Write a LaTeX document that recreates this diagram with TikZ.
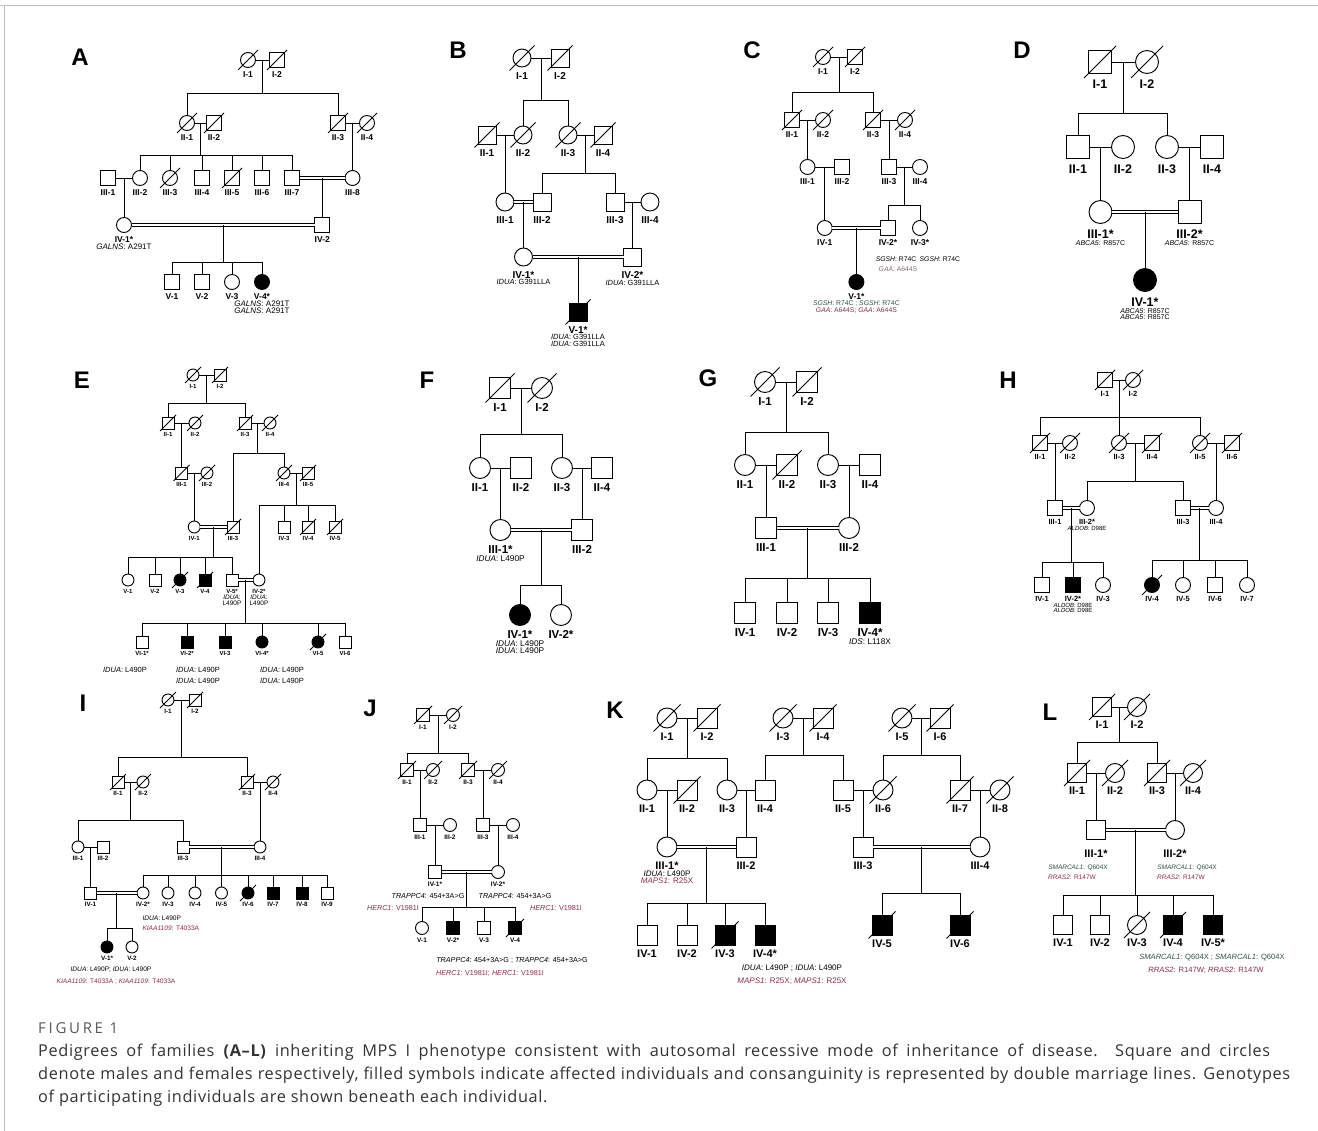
\documentclass[tikz,border=0pt]{standalone}
\usepackage{fontspec}
\setmainfont{Liberation Sans}
\newfontfamily\capfont{Open Sans}
\usetikzlibrary{calc,positioning}
\definecolor{maroon}{HTML}{8E2A4F}
\definecolor{dgreen}{HTML}{2F5245}
\definecolor{gtgray}{HTML}{7D6E76}
\definecolor{capgray}{HTML}{333333}
\newcommand\fs[1]{\fontsize{#1}{#1}\selectfont}
\newcommand\symsz{15}
\newcommand\dlen{10}
\newcommand\lgap{3pt}
\newcommand\labfont{\fs{9}\bfseries}
\newcommand\gtfont{\fs{6.5}}
\newcommand\gn[1]{\textit{#1}}
\newcommand\Ma[5][]{\node[msym,#1] (#2) at (#3,#4) {}; \node[lab,below=\lgap of #2] (#2-t) {#5};}
\newcommand\Fe[5][]{\node[fsym,#1] (#2) at (#3,#4) {}; \node[lab,below=\lgap of #2] (#2-t) {#5};}
\newcommand\dcs[1]{\draw[rel] ($(#1)+(-\dlen,\dlen)$) -- ($(#1)+(\dlen,-\dlen)$);}
\newcommand\mar[3]{\draw[rel] (#1) -- (#2); \coordinate (#3) at ($(#1)!.5!(#2)$);}
\newcommand\cmar[3]{\draw[cons] (#1) -- (#2); \coordinate (#3) at ($(#1)!.5!(#2)$);}
\newcommand\down[2]{\draw[rel] (#1) -- (#1 |- #2.north);}
\newcommand\sib[3]{\coordinate (#1s) at (#1 |- 0,#2); \draw[rel] (#1) -- (#1s); \foreach \ch in {#3}{\draw[rel] (#1s) -- (#1s -| \ch) -- (\ch);}}
\newcommand\gb[3][]{\node[gtn,below=0.4pt of #2,#1] (#2g) {#3};}
\begin{document}
\begin{tikzpicture}[x=1pt,y=-1pt,
 symb/.style={draw,line width=0.95pt,fill=white,inner sep=0pt,outer sep=0pt,minimum size=\symsz pt},
 msym/.style={symb,rectangle},
 fsym/.style={symb,circle},
 aff/.style={fill=black},
 rel/.style={line width=0.95pt},
 cons/.style={line width=0.75pt,double,double distance=2.3pt},
 lab/.style={inner sep=0.5pt,font=\labfont},
 gtn/.style={inner sep=0.3pt,font=\gtfont},
 panel/.style={inner sep=0pt,font=\fs{24}\bfseries},
 capline/.style={anchor=base west,inner sep=0pt,font=\capfont\fs{16.3}\addfontfeatures{LetterSpace=4},text=capgray}]
\useasboundingbox (0,0) rectangle (1318,1131);
\fill[white] (0,0) rectangle (1318,1131);
\draw[black!25,line width=0.6pt] (0,5) -- (1318,5);
\draw[black!25,line width=0.6pt] (4,5) -- (4,1131);
% ---------------- A
\begin{scope}
\renewcommand\symsz{15}\renewcommand\dlen{10}\renewcommand\labfont{\fs{8.5}\bfseries}\renewcommand\gtfont{\fs{8}}\renewcommand\lgap{3pt}
\node[panel] (A) at (80,57) {A};
\Fe{A-I-1}{248}{60}{I-1} \Ma{A-I-2}{277}{60}{I-2}
\mar{A-I-1}{A-I-2}{A-m1}
\Fe{A-II-1}{187}{123}{II-1} \Ma{A-II-2}{214}{123}{II-2}
\Ma{A-II-3}{338}{123}{II-3} \Fe{A-II-4}{367}{123}{II-4}
\sib{A-m1}{93}{A-II-1,A-II-3}
\mar{A-II-1}{A-II-2}{A-m2} \mar{A-II-3}{A-II-4}{A-m3}
\Ma{A-III-1}{108}{178}{III-1} \Fe{A-III-2}{140}{178}{III-2} \Fe{A-III-3}{170}{178}{III-3} \Ma{A-III-4}{202}{178}{III-4}
\Ma{A-III-5}{232}{178}{III-5} \Ma{A-III-6}{262}{178}{III-6} \Ma{A-III-7}{292}{178}{III-7} \Fe{A-III-8}{352.5}{178}{III-8}
\sib{A-m2}{155}{A-III-2,A-III-3,A-III-4,A-III-5,A-III-6,A-III-7}
\down{A-m3}{A-III-8}
\mar{A-III-1}{A-III-2}{A-m4} \cmar{A-III-7}{A-III-8}{A-m5}
\Fe{A-IV-1}{124}{225}{IV-1*} \Ma{A-IV-2}{322.25}{225}{IV-2}
\down{A-m4}{A-IV-1} \down{A-m5}{A-IV-2}
\gb{A-IV-1-t}{\gn{GALNS}: A291T}
\cmar{A-IV-1}{A-IV-2}{A-m6}
\Ma{A-V-1}{172}{282}{V-1} \Ma{A-V-2}{202}{282}{V-2} \Fe{A-V-3}{232}{282}{V-3} \Fe[aff]{A-V-4}{262}{282}{V-4*}
\sib{A-m6}{262}{A-V-1,A-V-2,A-V-3,A-V-4}
\gb{A-V-4-t}{\gn{GALNS}: A291T} \gb{A-V-4-tg}{\gn{GALNS}: A291T}
\dcs{A-I-1}\dcs{A-I-2}\dcs{A-II-1}\dcs{A-II-2}\dcs{A-II-3}\dcs{A-II-4}\dcs{A-III-3}\dcs{A-III-5}
\end{scope}
% ---------------- B
\begin{scope}
\renewcommand\symsz{18}\renewcommand\dlen{12.5}\renewcommand\labfont{\fs{10}\bfseries}\renewcommand\gtfont{\fs{7.5}}\renewcommand\lgap{4.5pt}
\node[panel] (B) at (458,50) {B};
\Fe{B-I-1}{522}{58}{I-1} \Ma{B-I-2}{560}{58}{I-2} \mar{B-I-1}{B-I-2}{B-m1}
\Ma{B-II-1}{487}{135}{II-1} \Fe{B-II-2}{523}{135}{II-2} \Fe{B-II-3}{568}{135}{II-3} \Ma{B-II-4}{603}{135}{II-4}
\sib{B-m1}{100}{B-II-2,B-II-3}
\mar{B-II-1}{B-II-2}{B-m2} \mar{B-II-3}{B-II-4}{B-m3}
\Fe{B-III-1}{505}{202}{III-1} \Ma{B-III-2}{542}{202}{III-2} \Ma{B-III-3}{615}{202}{III-3} \Fe{B-III-4}{650}{202}{III-4}
\down{B-m2}{B-III-1} \sib{B-m3}{173}{B-III-2,B-III-3}
\cmar{B-III-1}{B-III-2}{B-m4} \mar{B-III-3}{B-III-4}{B-m5}
\Fe{B-IV-1}{523.5}{257}{IV-1*} \Ma{B-IV-2}{632.5}{257}{IV-2*}
\down{B-m4}{B-IV-1} \down{B-m5}{B-IV-2}
\gb{B-IV-1-t}{\gn{IDUA}: G391LLA} \gb{B-IV-2-t}{\gn{IDUA}: G391LLA}
\cmar{B-IV-1}{B-IV-2}{B-m6}
\Ma[aff]{B-V-1}{578}{312}{V-1*} \down{B-m6}{B-V-1}
\gb{B-V-1-t}{\gn{IDUA}: G391LLA} \gb{B-V-1-tg}{\gn{IDUA}: G391LLA}
\dcs{B-I-1}\dcs{B-I-2}\dcs{B-II-1}\dcs{B-II-2}\dcs{B-II-3}\dcs{B-II-4}\dcs{B-V-1}
\end{scope}
% ---------------- C
\begin{scope}
\renewcommand\symsz{15}\renewcommand\dlen{10}\renewcommand\labfont{\fs{8.5}\bfseries}\renewcommand\gtfont{\fs{6.8}}\renewcommand\lgap{3pt}
\node[panel] (C) at (752,50) {C};
\Fe{C-I-1}{823}{57}{I-1} \Ma{C-I-2}{855}{57}{I-2} \mar{C-I-1}{C-I-2}{C-m1}
\Ma{C-II-1}{792}{120}{II-1} \Fe{C-II-2}{823}{120}{II-2} \Ma{C-II-3}{873}{120}{II-3} \Fe{C-II-4}{905}{120}{II-4}
\sib{C-m1}{92}{C-II-1,C-II-3}
\mar{C-II-1}{C-II-2}{C-m2} \mar{C-II-3}{C-II-4}{C-m3}
\Fe{C-III-1}{807.5}{167}{III-1} \Ma{C-III-2}{842}{167}{III-2} \Ma{C-III-3}{889}{167}{III-3} \Fe{C-III-4}{920}{167}{III-4}
\down{C-m2}{C-III-1} \down{C-m3}{C-III-3}
\mar{C-III-1}{C-III-2}{C-m4} \mar{C-III-3}{C-III-4}{C-m5}
\Fe{C-IV-1}{824.75}{228}{IV-1} \Ma{C-IV-2}{888}{228}{IV-2*} \Fe{C-IV-3}{920}{228}{IV-3*}
\down{C-m4}{C-IV-1} \sib{C-m5}{205}{C-IV-2,C-IV-3}
\node[gtn] (C-g1) at (918,259) {\gn{SGSH}: R74C\enspace\gn{SGSH}: R74C};
\node[gtn,text=gtgray] (C-g2) at (898,269.5) {\gn{GAA}: A644S};
\cmar{C-IV-1}{C-IV-2}{C-m6}
\Fe[aff]{C-V-1}{856.4}{282}{V-1*} \down{C-m6}{C-V-1}
\gb[text=dgreen]{C-V-1-t}{\gn{SGSH}: R74C ; \gn{SGSH}: R74C} \gb[text=maroon]{C-V-1-tg}{\gn{GAA}: A644S; \gn{GAA}: A644S}
\dcs{C-I-1}\dcs{C-I-2}\dcs{C-II-1}\dcs{C-II-2}\dcs{C-II-3}\dcs{C-II-4}
\end{scope}
% ---------------- D
\begin{scope}
\renewcommand\symsz{23}\renewcommand\dlen{16}\renewcommand\labfont{\fs{12.5}\bfseries}\renewcommand\gtfont{\fs{7}}\renewcommand\lgap{6pt}
\node[panel] (D) at (1022,50) {D};
\Ma{D-I-1}{1100}{62}{I-1} \Fe{D-I-2}{1147}{62}{I-2} \mar{D-I-1}{D-I-2}{D-m1}
\Ma{D-II-1}{1078}{147}{II-1} \Fe{D-II-2}{1123}{147}{II-2} \Fe{D-II-3}{1167}{147}{II-3} \Ma{D-II-4}{1212}{147}{II-4}
\sib{D-m1}{113}{D-II-1,D-II-3}
\mar{D-II-1}{D-II-2}{D-m2} \mar{D-II-3}{D-II-4}{D-m3}
\Fe{D-III-1}{1100.5}{212}{III-1*} \Ma{D-III-2}{1189.5}{212}{III-2*}
\down{D-m2}{D-III-1} \down{D-m3}{D-III-2}
\gb{D-III-1-t}{\gn{ABCA5}: R857C} \gb{D-III-2-t}{\gn{ABCA5}: R857C}
\cmar{D-III-1}{D-III-2}{D-m4}
\Fe[aff]{D-IV-1}{1145}{280}{IV-1*} \down{D-m4}{D-IV-1}
\gb{D-IV-1-t}{\gn{ABCA5}: R857C} \gb{D-IV-1-tg}{\gn{ABCA5}: R857C}
\dcs{D-I-1}\dcs{D-I-2}
\end{scope}
% ---------------- E
\begin{scope}
\renewcommand\symsz{12}\renewcommand\dlen{8}\renewcommand\labfont{\fs{6}\bfseries}\renewcommand\gtfont{\fs{6.5}}\renewcommand\lgap{2.5pt}
\node[panel] (E) at (82,380) {E};
\Fe{E-I-1}{193}{375}{I-1} \Ma{E-I-2}{220}{375}{I-2} \mar{E-I-1}{E-I-2}{E-m1}
\Ma{E-II-1}{168}{423}{II-1} \Fe{E-II-2}{195}{423}{II-2} \Ma{E-II-3}{245}{423}{II-3} \Fe{E-II-4}{270}{423}{II-4}
\sib{E-m1}{403}{E-II-1,E-II-3}
\mar{E-II-1}{E-II-2}{E-m2} \mar{E-II-3}{E-II-4}{E-m3}
\Ma{E-III-1}{181.5}{473}{III-1} \Fe{E-III-2}{207}{473}{III-2} \Fe{E-III-4}{284}{473}{III-4} \Ma{E-III-5}{308}{473}{III-5}
\Ma{E-III-3}{233}{527}{III-3}
\down{E-m2}{E-III-1} \sib{E-m3}{453}{E-III-3,E-III-4}
\mar{E-III-1}{E-III-2}{E-m4} \mar{E-III-4}{E-III-5}{E-m5}
\Fe{E-IV-1}{194.25}{527}{IV-1} \down{E-m4}{E-IV-1}
\Ma{E-IV-3}{284}{527}{IV-3} \Ma{E-IV-4}{308}{527}{IV-4} \Ma{E-IV-5}{335}{527}{IV-5} \Fe{E-IV-2}{259}{580}{IV-2*}
\sib{E-m5}{505}{E-IV-2,E-IV-3,E-IV-4,E-IV-5}
\cmar{E-IV-1}{E-III-3}{E-m6}
\Fe{E-V-1}{128}{580}{V-1} \Ma{E-V-2}{155}{580}{V-2} \Fe[aff]{E-V-3}{180}{580}{V-3} \Ma[aff]{E-V-4}{205}{580}{V-4} \Ma{E-V-5}{232}{580}{V-5*}
\sib{E-m6}{557}{E-V-1,E-V-2,E-V-3,E-V-4,E-V-5}
\cmar{E-V-5}{E-IV-2}{E-m7}
\gb{E-V-5-t}{\gn{IDUA}:} \gb{E-V-5-tg}{L490P} \gb{E-IV-2-t}{\gn{IDUA}:} \gb{E-IV-2-tg}{L490P}
\Ma{E-VI-1}{142}{642}{VI-1*} \Ma[aff]{E-VI-2}{187}{642}{VI-2*} \Ma[aff]{E-VI-3}{225}{642}{VI-3} \Fe[aff]{E-VI-4}{262}{642}{VI-4*} \Fe[aff]{E-VI-5}{318}{642}{VI-5} \Ma{E-VI-6}{345}{642}{VI-6}
\sib{E-m7}{623}{E-VI-1,E-VI-2,E-VI-3,E-VI-4,E-VI-5,E-VI-6}
\node[gtn,font=\fs{7.5}] (E-g1) at (125,670) {\gn{IDUA}: L490P};
\node[gtn,font=\fs{7.5}] (E-g2) at (198,670) {\gn{IDUA}: L490P}; \node[gtn,font=\fs{7.5}] (E-g3) at (198,680.5) {\gn{IDUA}: L490P};
\node[gtn,font=\fs{7.5}] (E-g4) at (282,670) {\gn{IDUA}: L490P}; \node[gtn,font=\fs{7.5}] (E-g5) at (282,680.5) {\gn{IDUA}: L490P};
\dcs{E-I-1}\dcs{E-I-2}\dcs{E-II-1}\dcs{E-II-2}\dcs{E-II-3}\dcs{E-II-4}\dcs{E-III-1}\dcs{E-III-2}\dcs{E-III-3}\dcs{E-III-4}\dcs{E-III-5}
\dcs{E-IV-4}\dcs{E-IV-5}\dcs{E-V-3}\dcs{E-V-4}\dcs{E-VI-5}
\end{scope}
% ---------------- F
\begin{scope}
\renewcommand\symsz{21}\renewcommand\dlen{14.5}\renewcommand\labfont{\fs{11.5}\bfseries}\renewcommand\gtfont{\fs{8.3}}\renewcommand\lgap{4.5pt}
\node[panel] (F) at (427,380) {F};
\Ma{F-I-1}{500}{388}{I-1} \Fe{F-I-2}{542}{388}{I-2} \mar{F-I-1}{F-I-2}{F-m1}
\Fe{F-II-1}{480}{468}{II-1} \Ma{F-II-2}{521}{468}{II-2} \Fe{F-II-3}{562}{468}{II-3} \Ma{F-II-4}{602}{468}{II-4}
\sib{F-m1}{434}{F-II-1,F-II-3}
\mar{F-II-1}{F-II-2}{F-m2} \mar{F-II-3}{F-II-4}{F-m3}
\Fe{F-III-1}{500.5}{530}{III-1*} \Ma{F-III-2}{582}{530}{III-2}
\down{F-m2}{F-III-1} \down{F-m3}{F-III-2}
\gb{F-III-1-t}{\gn{IDUA}: L490P}
\cmar{F-III-1}{F-III-2}{F-m4}
\Fe[aff]{F-IV-1}{520}{615}{IV-1*} \Fe{F-IV-2}{561}{615}{IV-2*}
\sib{F-m4}{585}{F-IV-1,F-IV-2}
\gb{F-IV-1-t}{\gn{IDUA}: L490P} \gb{F-IV-1-tg}{\gn{IDUA}: L490P}
\dcs{F-I-1}\dcs{F-I-2}
\end{scope}
% ---------------- G
\begin{scope}
\renewcommand\symsz{21}\renewcommand\dlen{14.5}\renewcommand\labfont{\fs{11.5}\bfseries}\renewcommand\gtfont{\fs{8.3}}\renewcommand\lgap{4.5pt}
\node[panel] (G) at (708,378) {G};
\Fe{G-I-1}{765}{382}{I-1} \Ma{G-I-2}{807}{382}{I-2} \mar{G-I-1}{G-I-2}{G-m1}
\Fe{G-II-1}{745}{465}{II-1} \Ma{G-II-2}{787}{465}{II-2} \Fe{G-II-3}{828}{465}{II-3} \Ma{G-II-4}{870}{465}{II-4}
\sib{G-m1}{432}{G-II-1,G-II-3}
\mar{G-II-1}{G-II-2}{G-m2} \mar{G-II-3}{G-II-4}{G-m3}
\Ma{G-III-1}{766}{528}{III-1} \Fe{G-III-2}{849}{528}{III-2}
\down{G-m2}{G-III-1} \down{G-m3}{G-III-2}
\cmar{G-III-1}{G-III-2}{G-m4}
\Ma{G-IV-1}{745}{613}{IV-1} \Ma{G-IV-2}{787}{613}{IV-2} \Ma{G-IV-3}{828}{613}{IV-3} \Ma[aff]{G-IV-4}{870}{613}{IV-4*}
\sib{G-m4}{578}{G-IV-1,G-IV-2,G-IV-3,G-IV-4}
\gb{G-IV-4-t}{\gn{IDS}: L118X}
\dcs{G-I-1}\dcs{G-I-2}\dcs{G-II-2}
\end{scope}
% ---------------- H
\begin{scope}
\renewcommand\symsz{15}\renewcommand\dlen{10}\renewcommand\labfont{\fs{7.5}\bfseries}\renewcommand\gtfont{\fs{6}}\renewcommand\lgap{3pt}
\node[panel] (H) at (1008,380) {H};
\Ma{H-I-1}{1105}{380}{I-1} \Fe{H-I-2}{1133}{380}{I-2} \mar{H-I-1}{H-I-2}{H-m1}
\Ma{H-II-1}{1040}{443}{II-1} \Fe{H-II-2}{1070}{443}{II-2} \Fe{H-II-3}{1119}{443}{II-3} \Ma{H-II-4}{1152}{443}{II-4} \Fe{H-II-5}{1200}{443}{II-5} \Ma{H-II-6}{1232}{443}{II-6}
\sib{H-m1}{417}{H-II-1,H-II-3,H-II-5}
\mar{H-II-1}{H-II-2}{H-m2} \mar{H-II-3}{H-II-4}{H-m3} \mar{H-II-5}{H-II-6}{H-m4}
\Ma{H-III-1}{1055}{508}{III-1} \Fe{H-III-2}{1087}{508}{III-2*} \Ma{H-III-3}{1183}{508}{III-3} \Fe{H-III-4}{1216}{508}{III-4}
\down{H-m2}{H-III-1} \sib{H-m3}{481}{H-III-2,H-III-3} \down{H-m4}{H-III-4}
\gb{H-III-2-t}{\gn{ALDOB}: D98E}
\cmar{H-III-1}{H-III-2}{H-m5} \cmar{H-III-3}{H-III-4}{H-m6}
\Ma{H-IV-1}{1042}{585}{IV-1} \Ma[aff]{H-IV-2}{1073}{585}{IV-2*} \Fe{H-IV-3}{1103}{585}{IV-3}
\Fe[aff]{H-IV-4}{1152}{585}{IV-4} \Fe{H-IV-5}{1183}{585}{IV-5} \Ma{H-IV-6}{1215}{585}{IV-6} \Fe{H-IV-7}{1247}{585}{IV-7}
\sib{H-m5}{562}{H-IV-1,H-IV-2,H-IV-3} \sib{H-m6}{560}{H-IV-4,H-IV-5,H-IV-6,H-IV-7}
\gb{H-IV-2-t}{\gn{ALDOB}: D98E} \gb{H-IV-2-tg}{\gn{ALDOB}: D98E}
\dcs{H-I-1}\dcs{H-I-2}\dcs{H-II-1}\dcs{H-II-2}\dcs{H-II-3}\dcs{H-II-4}\dcs{H-II-5}\dcs{H-II-6}\dcs{H-IV-4}
\end{scope}
% ---------------- I
\begin{scope}
\renewcommand\symsz{12}\renewcommand\dlen{8}\renewcommand\labfont{\fs{6.3}\bfseries}\renewcommand\gtfont{\fs{6.6}}\renewcommand\lgap{2.5pt}
\node[panel] (I) at (83,703) {I};
\Fe{I-I-1}{168}{700}{I-1} \Ma{I-I-2}{195}{700}{I-2} \mar{I-I-1}{I-I-2}{I-m1}
\Ma{I-II-1}{118}{782}{II-1} \Fe{I-II-2}{143}{782}{II-2} \Ma{I-II-3}{247}{782}{II-3} \Fe{I-II-4}{273}{782}{II-4}
\sib{I-m1}{757}{I-II-1,I-II-3}
\mar{I-II-1}{I-II-2}{I-m2} \mar{I-II-3}{I-II-4}{I-m3}
\Fe{I-III-1}{78}{847}{III-1} \Ma{I-III-2}{103}{847}{III-2} \Ma{I-III-3}{183}{847}{III-3} \Fe{I-III-4}{260}{847}{III-4}
\sib{I-m2}{820}{I-III-1,I-III-3} \down{I-m3}{I-III-4}
\mar{I-III-1}{I-III-2}{I-m4} \cmar{I-III-3}{I-III-4}{I-m5}
\Ma{I-IV-1}{90.5}{893}{IV-1} \down{I-m4}{I-IV-1}
\Fe{I-IV-2}{143}{893}{IV-2*} \Fe{I-IV-3}{168}{893}{IV-3} \Fe{I-IV-4}{195}{893}{IV-4} \Fe{I-IV-5}{221.5}{893}{IV-5}
\Fe[aff]{I-IV-6}{248}{893}{IV-6} \Ma[aff]{I-IV-7}{273}{893}{IV-7} \Ma[aff]{I-IV-8}{302}{893}{IV-8} \Ma{I-IV-9}{327}{893}{IV-9}
\sib{I-m5}{875}{I-IV-2,I-IV-3,I-IV-4,I-IV-5,I-IV-6,I-IV-7,I-IV-8,I-IV-9}
\node[gtn,anchor=west] (I-g1) at (142,918) {\gn{IDUA}: L490P};
\node[gtn,anchor=west,text=maroon] (I-g2) at (142,928) {\gn{KIAA1109}: T4033A};
\cmar{I-IV-1}{I-IV-2}{I-m6}
\Fe[aff]{I-V-1}{107}{947}{V-1*} \Fe{I-V-2}{132}{947}{V-2}
\sib{I-m6}{928}{I-V-1,I-V-2}
\node[gtn] (I-g3) at (111,970) {\gn{IDUA}: L490P; \gn{IDUA}: L490P};
\node[gtn,text=maroon] (I-g4) at (116,982) {\gn{KIAA1109}: T4033A ; \gn{KIAA1109}: T4033A};
\dcs{I-I-1}\dcs{I-I-2}\dcs{I-II-1}\dcs{I-II-2}\dcs{I-II-3}\dcs{I-II-4}\dcs{I-IV-6}
\end{scope}
% ---------------- J
\begin{scope}
\renewcommand\symsz{13}\renewcommand\dlen{9}\renewcommand\labfont{\fs{6.5}\bfseries}\renewcommand\gtfont{\fs{7.2}}\renewcommand\lgap{2.8pt}
\node[panel] (J) at (370,708) {J};
\Ma{J-I-1}{423}{715}{I-1} \Fe{J-I-2}{453}{715}{I-2} \mar{J-I-1}{J-I-2}{J-m1}
\Ma{J-II-1}{407}{770}{II-1} \Fe{J-II-2}{433}{770}{II-2} \Ma{J-II-3}{468}{770}{II-3} \Fe{J-II-4}{498}{770}{II-4}
\sib{J-m1}{753}{J-II-1,J-II-3}
\mar{J-II-1}{J-II-2}{J-m2} \mar{J-II-3}{J-II-4}{J-m3}
\Ma{J-III-1}{420}{825}{III-1} \Fe{J-III-2}{450}{825}{III-2} \Ma{J-III-3}{483}{825}{III-3} \Fe{J-III-4}{513}{825}{III-4}
\down{J-m2}{J-III-1} \down{J-m3}{J-III-3}
\mar{J-III-1}{J-III-2}{J-m4} \mar{J-III-3}{J-III-4}{J-m5}
\Ma{J-IV-1}{435}{872}{IV-1*} \Fe{J-IV-2}{498}{872}{IV-2*}
\down{J-m4}{J-IV-1} \down{J-m5}{J-IV-2}
\node[gtn] (J-g1) at (428,896) {\gn{TRAPPC4}: 454+3A>G};
\node[gtn] (J-g2) at (515,896) {\gn{TRAPPC4}: 454+3A>G};
\node[gtn,text=maroon] (J-g3) at (393,908) {\gn{HERC1}: V1981I};
\node[gtn,text=maroon] (J-g4) at (556,908) {\gn{HERC1}: V1981I};
\cmar{J-IV-1}{J-IV-2}{J-m6}
\Fe{J-V-1}{422}{928}{V-1} \Ma[aff]{J-V-2}{453}{928}{V-2*} \Ma{J-V-3}{484}{928}{V-3} \Ma[aff]{J-V-4}{515}{928}{V-4}
\sib{J-m6}{907}{J-V-1,J-V-2,J-V-3,J-V-4}
\node[gtn] (J-g5) at (512,960) {\gn{TRAPPC4}: 454+3A>G ; \gn{TRAPPC4}: 454+3A>G};
\node[gtn,text=maroon] (J-g6) at (490,973) {\gn{HERC1}: V1981I; \gn{HERC1}: V1981I};
\dcs{J-I-1}\dcs{J-I-2}\dcs{J-II-1}\dcs{J-II-2}\dcs{J-II-3}\dcs{J-II-4}\dcs{J-V-4}
\end{scope}
% ---------------- K
\begin{scope}
\renewcommand\symsz{20}\renewcommand\dlen{13.5}\renewcommand\labfont{\fs{11}\bfseries}\renewcommand\gtfont{\fs{8}}\renewcommand\lgap{4pt}
\node[panel] (K) at (615,710) {K};
\Fe{K-I-1}{667}{718}{I-1} \Ma{K-I-2}{707}{718}{I-2} \Fe{K-I-3}{783}{718}{I-3} \Ma{K-I-4}{823}{718}{I-4} \Fe{K-I-5}{902}{718}{I-5} \Ma{K-I-6}{940}{718}{I-6}
\mar{K-I-1}{K-I-2}{K-m1} \mar{K-I-3}{K-I-4}{K-m2} \mar{K-I-5}{K-I-6}{K-m3}
\Fe{K-II-1}{647}{790}{II-1} \Ma{K-II-2}{687}{790}{II-2} \Fe{K-II-3}{727}{790}{II-3} \Ma{K-II-4}{765}{790}{II-4}
\Ma{K-II-5}{843}{790}{II-5} \Fe{K-II-6}{883}{790}{II-6} \Ma{K-II-7}{960}{790}{II-7} \Fe{K-II-8}{1000}{790}{II-8}
\sib{K-m1}{758}{K-II-1,K-II-3} \sib{K-m2}{755}{K-II-4,K-II-5} \sib{K-m3}{755}{K-II-6,K-II-7}
\mar{K-II-1}{K-II-2}{K-m4} \mar{K-II-3}{K-II-4}{K-m5} \mar{K-II-5}{K-II-6}{K-m6} \mar{K-II-7}{K-II-8}{K-m7}
\Fe{K-III-1}{667}{847}{III-1*} \Ma{K-III-2}{746}{847}{III-2} \Ma{K-III-3}{863}{847}{III-3} \Fe{K-III-4}{980}{847}{III-4}
\down{K-m4}{K-III-1} \down{K-m5}{K-III-2} \down{K-m6}{K-III-3} \down{K-m7}{K-III-4}
\gb{K-III-1-t}{\gn{IDUA}: L490P} \gb[text=maroon]{K-III-1-tg}{\gn{MAPS1}: R25X}
\cmar{K-III-1}{K-III-2}{K-m8} \cmar{K-III-3}{K-III-4}{K-m9}
\Ma{K-IV-1}{647}{935}{IV-1} \Ma{K-IV-2}{687}{935}{IV-2} \Ma[aff]{K-IV-3}{725}{935}{IV-3} \Ma[aff]{K-IV-4}{765}{935}{IV-4*}
\sib{K-m8}{903}{K-IV-1,K-IV-2,K-IV-3,K-IV-4}
\Ma[aff]{K-IV-5}{882}{925}{IV-5} \Ma[aff]{K-IV-6}{960}{925}{IV-6}
\sib{K-m9}{893}{K-IV-5,K-IV-6}
\node[gtn] (K-g1) at (792,968) {\gn{IDUA}: L490P ; \gn{IDUA}: L490P};
\node[gtn,text=maroon] (K-g2) at (792,981) {\gn{MAPS1}: R25X; \gn{MAPS1}: R25X};
\dcs{K-I-1}\dcs{K-I-2}\dcs{K-I-3}\dcs{K-I-4}\dcs{K-I-5}\dcs{K-I-6}\dcs{K-II-2}\dcs{K-II-6}\dcs{K-II-7}\dcs{K-II-8}
\dcs{K-IV-3}\dcs{K-IV-5}\dcs{K-IV-6}
\end{scope}
% ---------------- L
\begin{scope}
\renewcommand\symsz{19}\renewcommand\dlen{13}\renewcommand\labfont{\fs{11}\bfseries}\renewcommand\gtfont{\fs{6.5}}\renewcommand\lgap{4pt}
\node[panel] (L) at (1050,712) {L};
\Ma{L-I-1}{1102}{707}{I-1} \Fe{L-I-2}{1137}{707}{I-2} \mar{L-I-1}{L-I-2}{L-m1}
\Ma{L-II-1}{1077}{773}{II-1} \Fe{L-II-2}{1115}{773}{II-2} \Ma{L-II-3}{1157}{773}{II-3} \Fe{L-II-4}{1193}{773}{II-4}
\sib{L-m1}{742}{L-II-1,L-II-3}
\mar{L-II-1}{L-II-2}{L-m2} \mar{L-II-3}{L-II-4}{L-m3}
{\renewcommand\lgap{10pt}\Ma{L-III-1}{1096}{830}{III-1*} \Fe{L-III-2}{1175}{830}{III-2*}}
\down{L-m2}{L-III-1} \down{L-m3}{L-III-2}
\node[gtn,text=dgreen] (L-g1) at (1078,868) {\gn{SMARCAL1}: Q604X};
\node[gtn,text=maroon] (L-g2) at (1072,877.5) {\gn{RRAS2}: R147W};
\node[gtn,text=dgreen] (L-g3) at (1187,868) {\gn{SMARCAL1}: Q604X};
\node[gtn,text=maroon] (L-g4) at (1181,877.5) {\gn{RRAS2}: R147W};
\cmar{L-III-1}{L-III-2}{L-m4}
\Ma{L-IV-1}{1063}{925}{IV-1} \Ma{L-IV-2}{1100}{925}{IV-2} \Fe{L-IV-3}{1137}{925}{IV-3} \Ma[aff]{L-IV-4}{1173}{925}{IV-4} \Ma[aff]{L-IV-5}{1213}{925}{IV-5*}
\sib{L-m4}{895}{L-IV-1,L-IV-2,L-IV-3,L-IV-4,L-IV-5}
\node[gtn,font=\fs{7.6},text=dgreen] (L-g5) at (1212,958) {\gn{SMARCAL1}: Q604X ; \gn{SMARCAL1}: Q604X};
\node[gtn,font=\fs{7.6},text=maroon] (L-g6) at (1206,970) {\gn{RRAS2}: R147W; \gn{RRAS2}: R147W};
\dcs{L-I-1}\dcs{L-I-2}\dcs{L-II-1}\dcs{L-II-2}\dcs{L-II-3}\dcs{L-II-4}\dcs{L-IV-3}\dcs{L-IV-4}
\end{scope}
% ---------------- caption
\node[anchor=base west,inner sep=0pt,font=\capfont\fs{15}\addfontfeatures{LetterSpace=18},text=black!65] (cap0) at (38,1033) {FIGURE 1};
\node[capline] (cap1) at (38,1056) {\makebox[1232pt][s]{Pedigrees of families \textbf{(A–L)} inheriting MPS I phenotype consistent with autosomal recessive mode of inheritance of disease. Square and circles}};
\node[capline] (cap2) at (38,1079) {\makebox[1252pt][s]{denote males and females respectively, filled symbols indicate affected individuals and consanguinity is represented by double marriage lines. Genotypes}};
\node[capline] (cap3) at (38,1102) {of participating individuals are shown beneath each individual.};
\end{tikzpicture}
\end{document}
